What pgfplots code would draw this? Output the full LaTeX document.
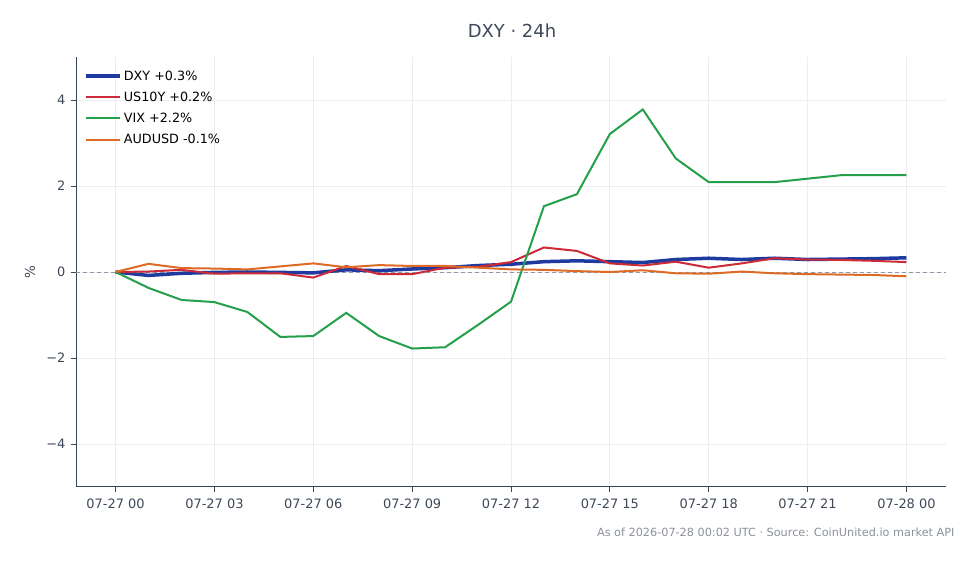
\documentclass[border=0pt]{standalone}
\usepackage{fontspec}
\setmainfont{DejaVu Sans}
\usepackage{pgfplots}
\pgfplotsset{compat=1.18}
\definecolor{cdxy}{HTML}{1F3A9E}
\definecolor{cus}{HTML}{CC2A36}
\definecolor{cvix}{HTML}{23A049}
\definecolor{caud}{HTML}{DD6A25}
\definecolor{spine}{HTML}{3A4555}
\definecolor{txt}{HTML}{3D4858}
\definecolor{gridc}{HTML}{EBEDF0}
\definecolor{foot}{HTML}{8A9099}
\definecolor{zeroc}{HTML}{8E98A6}
\begin{document}
\begin{tikzpicture}[x=1bp,y=1bp]
\path (0,0) rectangle (980,564);
\node[font=\fontsize{18}{20}\selectfont, text=txt] at (512,533) {DXY · 24h};
\node[font=\fontsize{11.3}{13}\selectfont, text=foot, anchor=base east] at (958,27) {As of 2026-07-28 00:02 UTC · Source: CoinUnited.io market API};
\begin{axis}[
  at={(76bp,77bp)}, anchor=south west,
  scale only axis, width=870bp, height=430bp,
  xmin=-1.2, xmax=25.2, ymin=-5, ymax=5,
  axis lines*=left,
  axis line style={-, draw=spine, line width=1bp},
  tick align=outside, major tick length=5bp,
  tick style={draw=spine, line width=0.8bp},
  xtick={0,3,6,9,12,15,18,21,24},
  xticklabels={07-27 00,07-27 03,07-27 06,07-27 09,07-27 12,07-27 15,07-27 18,07-27 21,07-28 00},
  ytick={-4,-2,0,2,4},
  yticklabels={−4,−2,0,2,4},
  ticklabel style={font=\fontsize{13}{15}\selectfont, text=txt},
  xticklabel style={yshift=-3bp},
  yticklabel style={xshift=-2bp},
  ylabel={\%}, 
  every axis y label/.style={at={(axis description cs:-0.053,0.5)}, rotate=90, anchor=center, font=\fontsize{13.5}{15}\selectfont, text=txt},
  grid=major, major grid style={draw=gridc, line width=0.8bp},
  legend style={at={(0.006,0.978)}, anchor=north west, draw=none, fill=none,
    font=\fontsize{12.8}{15}\selectfont, row sep=6.2bp, text=black},
  legend cell align=left,
  legend image code/.code={\draw[#1] (0bp,0bp) -- (30bp,0bp); \path (0bp,0bp) -- (34bp,0bp);},
]
\addplot[zeroc, dashed, line width=0.9bp, dash pattern=on 4bp off 3bp, forget plot] coordinates {(-1.2,0) (25.2,0)};
\addplot[cdxy, line width=3.5bp] coordinates {
(0,0) (1,-0.08) (2,-0.03) (3,-0.01) (4,0.0) (5,-0.01) (6,-0.02) (7,0.05) (8,0.03) (9,0.07) (10,0.1) (11,0.15) (12,0.18)
(13,0.24) (14,0.26) (15,0.24) (16,0.22) (17,0.29) (18,0.32) (19,0.29) (20,0.32) (21,0.29) (22,0.3) (23,0.31) (24,0.33)};
\addlegendentry{DXY +0.3\%}
\addplot[cus, line width=2bp] coordinates {
(0,0) (1,0.01) (2,0.05) (3,-0.04) (4,-0.03) (5,-0.03) (6,-0.13) (7,0.14) (8,-0.05) (9,-0.05) (10,0.1) (11,0.12) (12,0.23)
(13,0.57) (14,0.49) (15,0.2) (16,0.15) (17,0.24) (18,0.1) (19,0.2) (20,0.32) (21,0.29) (22,0.28) (23,0.26) (24,0.23)};
\addlegendentry{US10Y +0.2\%}
\addplot[cvix, line width=2bp] coordinates {
(0,0) (1,-0.37) (2,-0.65) (3,-0.7) (4,-0.93) (5,-1.51) (6,-1.49) (7,-0.95) (8,-1.49) (9,-1.78) (10,-1.75) (11,-1.23) (12,-0.69)
(13,1.53) (14,1.81) (15,3.21) (16,3.78) (17,2.64) (18,2.09) (19,2.09) (20,2.09) (21,2.17) (22,2.25) (23,2.25) (24,2.25)};
\addlegendentry{VIX +2.2\%}
\addplot[caud, line width=2bp] coordinates {
(0,0) (1,0.19) (2,0.09) (3,0.08) (4,0.06) (5,0.13) (6,0.2) (7,0.11) (8,0.16) (9,0.14) (10,0.14) (11,0.1) (12,0.06)
(13,0.05) (14,0.02) (15,0.0) (16,0.04) (17,-0.03) (18,-0.04) (19,0.01) (20,-0.03) (21,-0.05) (22,-0.06) (23,-0.07) (24,-0.1)};
\addlegendentry{AUDUSD -0.1\%}
\end{axis}
\end{tikzpicture}
\end{document}
